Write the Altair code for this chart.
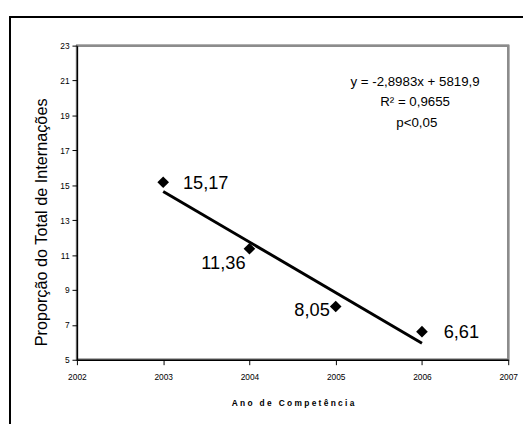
import altair as alt
import pandas as pd

anos = [2003, 2004, 2005, 2006]
valores = [15.17, 11.36, 8.05, 6.61]
rotulos = ["15,17", "11,36", "8,05", "6,61"]

eq_linhas = ["y = -2,8983x + 5819,9", "R\u00b2 = 0,9655", "p<0,05"]
eq_x = [2005.92, 2005.92, 2005.94]
eq_y = [20.9, 19.75, 18.55]

y_ticks = [5, 7, 9, 11, 13, 15, 17, 19, 21, 23]
x_ticks = [2002, 2003, 2004, 2005, 2006, 2007]

FONT = "Liberation Sans"
NB = "\u00a0"
titulo_x = (NB * 3).join(NB.join(list(w)) for w in "Ano de Competência".split(" "))

df = pd.DataFrame({"ano": anos, "valor": valores, "rotulo": rotulos})
df_eq = pd.DataFrame({"ano": eq_x, "valor": eq_y, "txt": eq_linhas})

x_scale = alt.Scale(domain=[2002, 2007], nice=False, zero=False)
y_scale = alt.Scale(domain=[5, 23], nice=False, zero=False)

x_axis = alt.Axis(values=x_ticks, format="d", grid=False, tickSize=5, zindex=2,
                  labelFontSize=8.5, labelFont=FONT, labelColor="#000",
                  labelPadding=8, labelOverlap=False, labelFlush=False,
                  domainColor="#000", domainWidth=1.5,
                  tickColor="#000",
                  title=titulo_x,
                  titleFont=FONT, titleFontSize=8.5, titleFontWeight="bold",
                  titleColor="#000", titleY=43, titleBaseline="middle")
y_axis = alt.Axis(values=y_ticks, grid=False, tickSize=5, tickCount=10, zindex=2,
                  labelFontSize=8.5, labelFont=FONT, labelColor="#000",
                  labelPadding=3, labelOverlap=False, labelFlush=False,
                  domainColor="#000", domainWidth=1.5,
                  tickColor="#000",
                  title="Proporção do Total de Internações",
                  titleFont=FONT, titleFontSize=16.5, titleFontWeight="normal",
                  titleColor="#000", titleAngle=270, titleX=-36, titleY=179,
                  titleBaseline="middle", titleAlign="center")

X = alt.X("ano:Q", scale=x_scale, axis=x_axis)
Y = alt.Y("valor:Q", scale=y_scale, axis=y_axis)

base = alt.Chart(df)

frame = alt.Chart(df).mark_rect(fill=None, stroke="#000", strokeWidth=1.5).encode(
    x=alt.value(-68), x2=alt.value(600), y=alt.value(-29), y2=alt.value(600)
)
borda = alt.Chart(df).mark_rect(fill=None, stroke="#8c8c8c", strokeWidth=2).encode(
    x=alt.value(0), x2=alt.value(438), y=alt.value(0), y2=alt.value(319)
)

pontos = base.mark_point(shape="diamond", filled=True, color="#000", size=140, opacity=1).encode(x=X, y=Y)

tendencia = base.transform_regression("ano", "valor", method="linear", extent=[2003, 2006]).mark_line(
    color="#000", strokeWidth=3
).encode(x=X, y=Y)

def rotulo(ano, align, dx, dy):
    return base.transform_filter(alt.datum.ano == ano).mark_text(
        font=FONT, fontSize=18.5, align=align, baseline="middle", dx=dx, dy=dy, color="#000"
    ).encode(x=X, y=Y, text="rotulo:N")

r1 = rotulo(2003, "left", 20, 1)
r2 = rotulo(2004, "right", -4, 15)
r3 = rotulo(2005, "right", -6, 4)
r4 = rotulo(2006, "left", 22, 0)

eq = alt.Chart(df_eq).mark_text(font=FONT, fontSize=13.5, align="center", baseline="middle", color="#000").encode(
    x=X, y=Y, text="txt:N"
)

chart = alt.layer(frame, borda, tendencia, pontos, r1, r2, r3, r4, eq).properties(
    width=438, height=319,
    padding={"left": 70, "top": 35, "right": 15, "bottom": 62},
    autosize=alt.AutoSizeParams(type="none"),
).configure_view(stroke="#8c8c8c", strokeWidth=1.5).configure(background="white")

chart.save("out.html", embed_options={"renderer": "svg", "actions": False})
